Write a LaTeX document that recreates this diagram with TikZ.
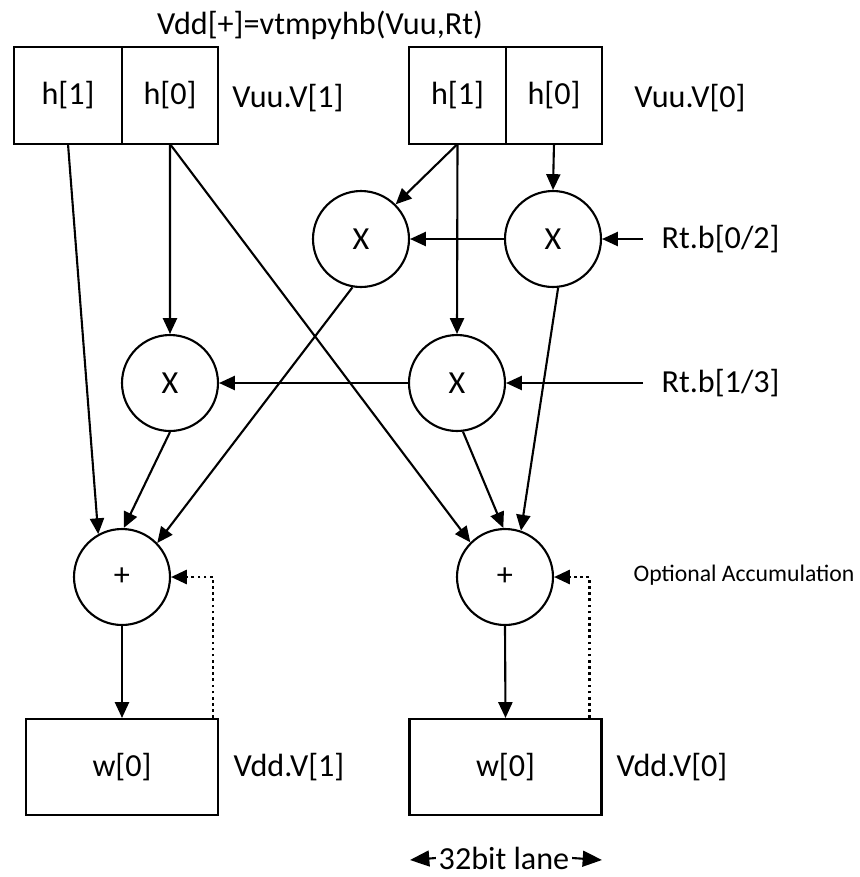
\documentclass[tikz,border=0pt]{standalone}
\usepackage{fontspec}
\setmainfont{Carlito}
\usetikzlibrary{arrows.meta,positioning}

\begin{document}
\begin{tikzpicture}[x=0.02cm, y=-0.02cm, line width=1.2pt,
      font=\fontsize{18.3}{22}\selectfont,
      cell/.style={rectangle, draw, outer sep=0pt, inner sep=0pt, minimum height=1.94cm},
      op/.style={circle, draw, inner sep=0pt, minimum size=1.92cm},
      res/.style={rectangle, draw, minimum width=3.84cm, minimum height=1.92cm},
      arr/.style={-{Triangle[length=9pt,width=8pt]}},
      lbl/.style={anchor=west, inner xsep=10pt}]
    \useasboundingbox (0,0) rectangle (860,877);
    % source halfwords
    \node[cell, minimum width=2.16cm] (h1L) at (68,95.5) {h[1]};
    \node[cell, minimum width=1.92cm, right=0pt of h1L] (h0L) {h[0]};
    \node[cell, minimum width=1.94cm] (h1R) at (457.5,95.5) {h[1]};
    \node[cell, minimum width=1.92cm, right=0pt of h1R] (h0R) {h[0]};
    \node (title) at (320,25) {Vdd[+]=vtmpyhb(Vuu,Rt)};
    \node (vuu1) at (288,98) {Vuu.V[1]};
    \node (vuu0) at (690,98) {Vuu.V[0]};
    % multipliers and adders
    \node[op] (mulTL) at (361,239) {X};
    \node[op] (mulTR) at (553,239) {X};
    \node[op] (mulML) at (170,383) {X};
    \node[op] (mulMR) at (457,383) {X};
    \node[op] (addL) at (122,577) {+};
    \node[op] (addR) at (505,577) {+};
    \node[lbl] (rt02) at (643,239) {Rt.b[0/2]};
    \node[lbl] (rt13) at (643,383) {Rt.b[1/3]};
    \node[font=\fontsize{13.5}{16}\selectfont] (acc) at (744,575) {Optional Accumulation};
    % results
    \node[res] (wL) at (122,767) {w[0]};
    \node[res] (wR) at (505.5,767) {w[0]};
    \node (vdd1) at (289,767) {Vdd.V[1]};
    \node (vdd0) at (672,767) {Vdd.V[0]};
    \node[inner sep=1pt] (lane) at (504,858) {32bit lane};
    \coordinate (laneW) at (410,860);
    \coordinate (laneE) at (602,860);

    \draw[arr] (h1L.south) -- (addL.119);
    \draw[arr] (h0L.south) -- (mulML.north);
    \draw[arr] (h0L.south) -- (addR.135);
    \draw[arr] (h1R.south) -- (mulTL.45);
    \draw[arr] (h1R.south) -- (mulMR.north);
    \draw[arr] (h0R.south) -- (mulTR.north);
    \draw[arr] (rt02.west) -- (mulTR.east);
    \draw[arr] (rt13.west) -- (mulMR.east);
    \draw[arr] (mulTR.west) -- (mulTL.east);
    \draw[arr] (mulMR.west) -- (mulML.east);
    \draw[arr] (mulTL.260) -- (addL.44);
    \draw[arr] (mulML.south) -- (addL.88);
    \draw[arr] (mulMR.277) -- (addR.92);
    \draw[arr] (mulTR.276) -- (addR.71);
    \draw[arr] (addL.south) -- (wL.north);
    \draw[arr] (addR.south) -- (wR.north);
    \draw[arr, dotted, line width=1.5pt] ([xshift=-3.4pt]wL.north east) |- (addL.east);
    \draw[arr, dotted, line width=1.5pt] ([xshift=-7.4pt]wR.north east) |- (addR.east);
    \draw[-{Triangle[length=11pt,width=9pt]}] (lane.west) -- (laneW);
    \draw[-{Triangle[length=11pt,width=9pt]}] (lane.east) -- (laneE);
  \end{tikzpicture}
\end{document}
